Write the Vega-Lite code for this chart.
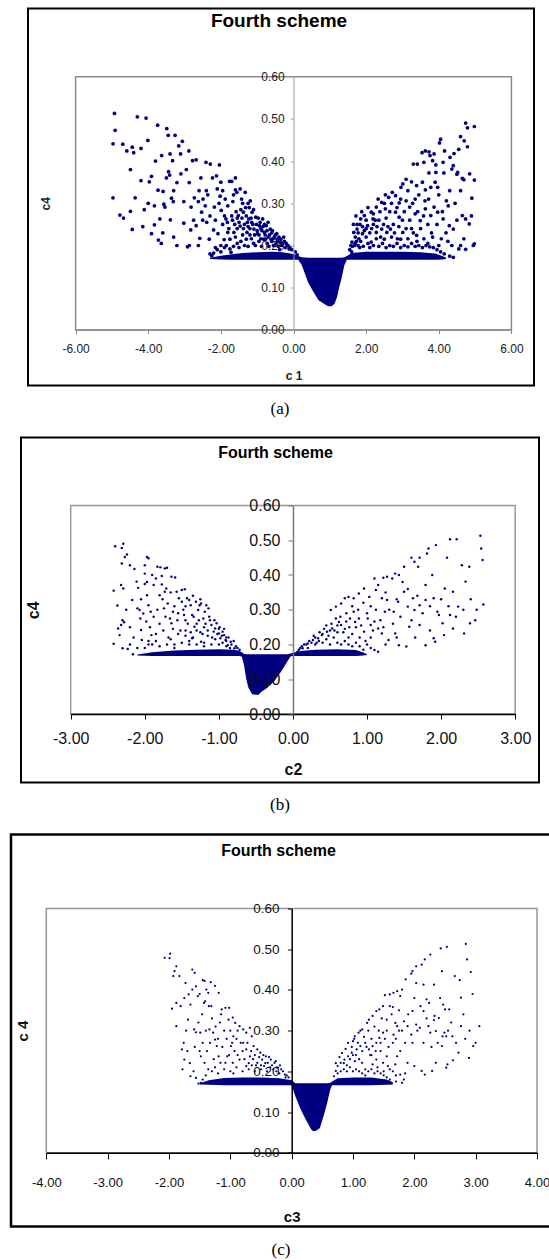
{
"$schema": "https://vega.github.io/schema/vega-lite/v6.json",
"background": "white",
"padding": {"left": 0, "top": 7.5, "right": 0, "bottom": 0},
"spacing": 19,
"config": {"view": {"stroke": "black", "strokeWidth": 2}, "axis": {"grid": false, "labelFlush": false, "labelOverlap": false, "labelBound": false}},
"datasets": {
"a": [{"x":-4.93,"y":0.513},{"x":-4.91,"y":0.473},{"x":-4.97,"y":0.441},{"x":-4.97,"y":0.313},{"x":-4.78,"y":0.272},{"x":-4.68,"y":0.265},{"x":-4.49,"y":0.38},{"x":-4.59,"y":0.424},{"x":-4.44,"y":0.433},{"x":-4.4,"y":0.42},{"x":-4.49,"y":0.281},{"x":-4.44,"y":0.238},{"x":-4.36,"y":0.313},{"x":-4.3,"y":0.505},{"x":-4.2,"y":0.354},{"x":-4.15,"y":0.245},{"x":-4.11,"y":0.285},{"x":-4.06,"y":0.502},{"x":-4.01,"y":0.449},{"x":-3.97,"y":0.351},{"x":-3.91,"y":0.364},{"x":-3.91,"y":0.228},{"x":-3.83,"y":0.249},{"x":-3.83,"y":0.294},{"x":-3.74,"y":0.485},{"x":-3.73,"y":0.331},{"x":-3.68,"y":0.263},{"x":-3.72,"y":0.213},{"x":-3.64,"y":0.205},{"x":-3.63,"y":0.413},{"x":-3.59,"y":0.328},{"x":-3.54,"y":0.291},{"x":-3.57,"y":0.298},{"x":-3.49,"y":0.477},{"x":-3.45,"y":0.461},{"x":-3.44,"y":0.375},{"x":-3.41,"y":0.367},{"x":-3.4,"y":0.417},{"x":-3.36,"y":0.312},{"x":-3.39,"y":0.261},{"x":-3.33,"y":0.401},{"x":-3.31,"y":0.304},{"x":-3.26,"y":0.461},{"x":-3.21,"y":0.349},{"x":-3.21,"y":0.2},{"x":-3.16,"y":0.436},{"x":-3.11,"y":0.417},{"x":-3.06,"y":0.447},{"x":-3.02,"y":0.304},{"x":-3.02,"y":0.253},{"x":-2.92,"y":0.197},{"x":-2.87,"y":0.2},{"x":-2.88,"y":0.424},{"x":-2.87,"y":0.349},{"x":-2.83,"y":0.237},{"x":-2.82,"y":0.291},{"x":-2.78,"y":0.401},{"x":-2.73,"y":0.313},{"x":-2.68,"y":0.403},{"x":-2.68,"y":0.247},{"x":-2.62,"y":0.304},{"x":-2.62,"y":0.2},{"x":-2.58,"y":0.217},{"x":-2.53,"y":0.279},{"x":-2.49,"y":0.31},{"x":-2.43,"y":0.294},{"x":-2.41,"y":0.397},{"x":-2.39,"y":0.255},{"x":-2.36,"y":0.32},{"x":-2.32,"y":0.215},{"x":-2.29,"y":0.393},{"x":-2.25,"y":0.176},{"x":-2.23,"y":0.36},{"x":-2.2,"y":0.237},{"x":-2.18,"y":0.291},{"x":-2.12,"y":0.365},{"x":-2.1,"y":0.334},{"x":-2.08,"y":0.228},{"x":-2.04,"y":0.391},{"x":-2.02,"y":0.317},{"x":-1.99,"y":0.283},{"x":-1.91,"y":0.214},{"x":-1.86,"y":0.263},{"x":-1.81,"y":0.231},{"x":-1.81,"y":0.294},{"x":-1.76,"y":0.352},{"x":-1.7,"y":0.352},{"x":-1.72,"y":0.184},{"x":-1.67,"y":0.304},{"x":-1.64,"y":0.231},{"x":-1.6,"y":0.332},{"x":-1.56,"y":0.326},{"x":-1.52,"y":0.271},{"x":-1.47,"y":0.334},{"x":-1.47,"y":0.246},{"x":-1.43,"y":0.31},{"x":-1.38,"y":0.279},{"x":-1.33,"y":0.326},{"x":-1.28,"y":0.231},{"x":-1.23,"y":0.263},{"x":-1.19,"y":0.306},{"x":-1.16,"y":0.216},{"x":-1.14,"y":0.279},{"x":-1.09,"y":0.239},{"x":-1.04,"y":0.267},{"x":-0.99,"y":0.228},{"x":-0.94,"y":0.247},{"x":-0.9,"y":0.216},{"x":-0.85,"y":0.263},{"x":-0.8,"y":0.231},{"x":-0.75,"y":0.247},{"x":-0.7,"y":0.22},{"x":-0.64,"y":0.239},{"x":-0.56,"y":0.216},{"x":-0.46,"y":0.228},{"x":-0.37,"y":0.208},{"x":-0.27,"y":0.22},{"x":-0.17,"y":0.2},
{"x":-2.2,"y":0.182},{"x":-2.1,"y":0.19},{"x":-2.0,"y":0.185},{"x":-1.9,"y":0.195},{"x":-1.85,"y":0.2},{"x":-1.75,"y":0.192},{"x":-1.65,"y":0.198},{"x":-1.55,"y":0.205},{"x":-1.5,"y":0.195},{"x":-1.45,"y":0.21},{"x":-1.35,"y":0.2},{"x":-1.3,"y":0.215},{"x":-1.25,"y":0.198},{"x":-1.2,"y":0.225},{"x":-1.1,"y":0.205},{"x":-1.05,"y":0.2},{"x":-0.95,"y":0.21},{"x":-0.88,"y":0.198},{"x":-0.82,"y":0.215},{"x":-0.72,"y":0.205},{"x":-0.68,"y":0.198},{"x":-0.6,"y":0.21},{"x":-0.52,"y":0.2},{"x":-0.48,"y":0.205},{"x":-0.42,"y":0.198},{"x":-0.33,"y":0.2},{"x":-0.22,"y":0.195},{"x":-0.12,"y":0.192},{"x":-0.05,"y":0.19},{"x":0.05,"y":0.185},{"x":0.1,"y":0.178},{"x":-1.55,"y":0.24},{"x":-1.35,"y":0.25},{"x":-1.25,"y":0.245},{"x":-1.15,"y":0.255},{"x":-1.0,"y":0.235},{"x":-0.9,"y":0.24},{"x":-0.78,"y":0.225},{"x":-0.6,"y":0.23},{"x":-1.4,"y":0.225},{"x":-1.6,"y":0.22},{"x":-1.75,"y":0.215},{"x":-2.0,"y":0.2},{"x":-2.15,"y":0.195},{"x":-0.55,"y":0.2},{"x":-0.45,"y":0.215},{"x":-0.38,"y":0.19},{"x":-2.3,"y":0.18},
{"x":-1.95,"y":0.25},{"x":-1.9,"y":0.27},{"x":-1.82,"y":0.255},{"x":-1.78,"y":0.24},{"x":-1.7,"y":0.27},{"x":-1.68,"y":0.26},{"x":-1.62,"y":0.25},{"x":-1.58,"y":0.28},{"x":-1.55,"y":0.265},{"x":-1.5,"y":0.255},{"x":-1.45,"y":0.285},{"x":-1.42,"y":0.265},{"x":-1.38,"y":0.24},{"x":-1.32,"y":0.29},{"x":-1.3,"y":0.27},{"x":-1.27,"y":0.255},{"x":-1.22,"y":0.29},{"x":-1.2,"y":0.24},{"x":-1.17,"y":0.265},{"x":-1.12,"y":0.25},{"x":-1.1,"y":0.285},{"x":-1.07,"y":0.225},{"x":-1.02,"y":0.25},{"x":-0.97,"y":0.265},{"x":-0.95,"y":0.225},{"x":-0.92,"y":0.255},{"x":-0.87,"y":0.235},{"x":-0.84,"y":0.245},{"x":-0.8,"y":0.25},{"x":-0.77,"y":0.215},{"x":-0.73,"y":0.235},{"x":-0.7,"y":0.255},{"x":-0.66,"y":0.225},{"x":-0.62,"y":0.215},{"x":-0.58,"y":0.235},{"x":-0.53,"y":0.22},{"x":-0.5,"y":0.225},{"x":-0.44,"y":0.21},{"x":-0.4,"y":0.22},{"x":-0.35,"y":0.215},{"x":-0.3,"y":0.205},{"x":-0.25,"y":0.21},{"x":-0.2,"y":0.205},{"x":-0.15,"y":0.2},{"x":-0.1,"y":0.195},{"x":-2.4,"y":0.33},{"x":-2.5,"y":0.26},{"x":-2.6,"y":0.33},{"x":-2.3,"y":0.27},{"x":-2.15,"y":0.26},{"x":-2.05,"y":0.3},{"x":-1.95,"y":0.33},{"x":-1.88,"y":0.31},{"x":-1.65,"y":0.32},{"x":-1.4,"y":0.3},{"x":-1.25,"y":0.3},{"x":-1.6,"y":0.36},{"x":-2.0,"y":0.35},{"x":-2.55,"y":0.36},{"x":-2.95,"y":0.38},{"x":-3.1,"y":0.37},{"x":-3.3,"y":0.33},{"x":-3.5,"y":0.36},{"x":-3.8,"y":0.4},{"x":-4.2,"y":0.43},{"x":-4.7,"y":0.44},{"x":-4.0,"y":0.3},{"x":-3.6,"y":0.23},{"x":-3.3,"y":0.22},{"x":-2.75,"y":0.26},
{"x":4.74,"y":0.49},{"x":4.79,"y":0.479},{"x":4.98,"y":0.482},{"x":4.6,"y":0.458},{"x":4.7,"y":0.448},{"x":4.79,"y":0.434},{"x":4.55,"y":0.428},{"x":4.42,"y":0.418},{"x":4.05,"y":0.452},{"x":4.02,"y":0.443},{"x":4.16,"y":0.424},{"x":4.31,"y":0.409},{"x":4.4,"y":0.389},{"x":3.54,"y":0.42},{"x":3.63,"y":0.424},{"x":3.73,"y":0.422},{"x":3.76,"y":0.413},{"x":3.87,"y":0.417},{"x":3.3,"y":0.393},{"x":3.41,"y":0.393},{"x":3.59,"y":0.397},{"x":3.83,"y":0.401},{"x":3.92,"y":0.391},{"x":4.12,"y":0.397},{"x":3.73,"y":0.372},{"x":3.92,"y":0.373},{"x":4.14,"y":0.372},{"x":4.36,"y":0.381},{"x":4.5,"y":0.369},{"x":4.52,"y":0.373},{"x":4.98,"y":0.355},{"x":4.65,"y":0.359},{"x":4.69,"y":0.356},{"x":3.1,"y":0.357},{"x":3.01,"y":0.346},{"x":2.96,"y":0.338},{"x":3.25,"y":0.351},{"x":3.39,"y":0.342},{"x":3.63,"y":0.332},{"x":3.78,"y":0.338},{"x":3.97,"y":0.338},{"x":2.53,"y":0.32},{"x":2.72,"y":0.326},{"x":2.81,"y":0.318},{"x":2.33,"y":0.31},{"x":2.43,"y":0.302},{"x":2.62,"y":0.314},{"x":2.28,"y":0.291},{"x":2.91,"y":0.301},{"x":3.1,"y":0.306},{"x":3.35,"y":0.31},{"x":3.62,"y":0.306},{"x":3.87,"y":0.291},{"x":4.21,"y":0.306},{"x":4.26,"y":0.294},{"x":4.91,"y":0.312},{"x":2.14,"y":0.279},{"x":2.19,"y":0.263},{"x":2.53,"y":0.287},{"x":2.81,"y":0.279},{"x":2.91,"y":0.267},{"x":3.2,"y":0.291},{"x":3.35,"y":0.275},{"x":3.49,"y":0.259},{"x":3.63,"y":0.287},{"x":3.78,"y":0.271},{"x":3.97,"y":0.279},{"x":4.12,"y":0.263},{"x":4.29,"y":0.247},{"x":4.4,"y":0.239},{"x":4.65,"y":0.271},{"x":4.74,"y":0.263},{"x":4.84,"y":0.251},{"x":1.85,"y":0.263},{"x":1.95,"y":0.271},{"x":2.04,"y":0.247},{"x":2.28,"y":0.231},{"x":2.43,"y":0.239},{"x":2.57,"y":0.231},{"x":2.67,"y":0.239},{"x":2.86,"y":0.216},{"x":3.01,"y":0.231},{"x":3.15,"y":0.216},{"x":3.39,"y":0.224},{"x":3.59,"y":0.216},{"x":3.83,"y":0.22},{"x":4.07,"y":0.216},{"x":4.36,"y":0.2},{"x":4.55,"y":0.192},{"x":4.69,"y":0.216},{"x":4.74,"y":0.191},{"x":4.98,"y":0.204},{"x":4.4,"y":0.172},{"x":1.66,"y":0.231},{"x":1.75,"y":0.239},{"x":1.8,"y":0.216},{"x":1.9,"y":0.228},{"x":2.0,"y":0.22},{"x":1.61,"y":0.208},{"x":2.14,"y":0.208},{"x":2.28,"y":0.216},
{"x":1.55,"y":0.19},{"x":1.62,"y":0.198},{"x":1.7,"y":0.205},{"x":1.78,"y":0.2},{"x":1.85,"y":0.21},{"x":1.92,"y":0.198},{"x":2.05,"y":0.205},{"x":2.1,"y":0.195},{"x":2.2,"y":0.2},{"x":2.35,"y":0.198},{"x":2.45,"y":0.205},{"x":2.55,"y":0.195},{"x":2.65,"y":0.2},{"x":2.75,"y":0.198},{"x":2.85,"y":0.205},{"x":2.95,"y":0.195},{"x":3.05,"y":0.2},{"x":3.15,"y":0.197},{"x":3.25,"y":0.205},{"x":3.35,"y":0.198},{"x":3.45,"y":0.2},{"x":3.55,"y":0.195},{"x":3.65,"y":0.2},{"x":3.75,"y":0.197},{"x":3.85,"y":0.195},{"x":3.95,"y":0.19},{"x":4.05,"y":0.185},{"x":4.15,"y":0.18},{"x":4.3,"y":0.175},{"x":2.0,"y":0.24},{"x":2.2,"y":0.25},{"x":1.9,"y":0.245},{"x":2.35,"y":0.26},{"x":2.5,"y":0.215},{"x":2.7,"y":0.22},{"x":3.25,"y":0.24},{"x":1.7,"y":0.22},{"x":1.75,"y":0.25},{"x":1.58,"y":0.2},
{"x":1.65,"y":0.25},{"x":1.72,"y":0.27},{"x":1.78,"y":0.23},{"x":1.83,"y":0.25},{"x":1.88,"y":0.28},{"x":1.95,"y":0.235},{"x":2.0,"y":0.26},{"x":2.05,"y":0.29},{"x":2.1,"y":0.23},{"x":2.15,"y":0.24},{"x":2.2,"y":0.275},{"x":2.25,"y":0.26},{"x":2.3,"y":0.245},{"x":2.38,"y":0.28},{"x":2.4,"y":0.22},{"x":2.48,"y":0.25},{"x":2.5,"y":0.3},{"x":2.55,"y":0.265},{"x":2.6,"y":0.245},{"x":2.65,"y":0.28},{"x":2.7,"y":0.3},{"x":2.75,"y":0.25},{"x":2.78,"y":0.23},{"x":2.85,"y":0.29},{"x":2.9,"y":0.245},{"x":2.95,"y":0.31},{"x":3.0,"y":0.26},{"x":3.05,"y":0.28},{"x":3.1,"y":0.24},{"x":3.15,"y":0.33},{"x":3.2,"y":0.26},{"x":3.28,"y":0.3},{"x":3.3,"y":0.23},{"x":3.42,"y":0.28},{"x":3.45,"y":0.32},{"x":3.5,"y":0.24},{"x":3.55,"y":0.35},{"x":3.58,"y":0.27},{"x":3.7,"y":0.25},{"x":3.72,"y":0.31},{"x":3.8,"y":0.23},{"x":3.9,"y":0.35},{"x":3.95,"y":0.25},{"x":4.0,"y":0.32},{"x":4.1,"y":0.28},{"x":4.2,"y":0.23},{"x":4.3,"y":0.33},{"x":4.45,"y":0.3},{"x":4.5,"y":0.26},{"x":4.6,"y":0.33},{"x":4.85,"y":0.37},{"x":4.9,"y":0.27},{"x":4.95,"y":0.2},{"x":4.6,"y":0.2},{"x":4.25,"y":0.21},{"x":4.0,"y":0.2},{"x":3.7,"y":0.205},{"x":3.4,"y":0.21},{"x":2.95,"y":0.215},{"x":1.68,"y":0.2},{"x":1.73,"y":0.21},{"x":1.82,"y":0.195},{"x":1.6,"y":0.185}],
"fa": [{"x":-2.3,"lo":0.168,"hi":0.171},{"x":-2.0,"lo":0.167,"hi":0.176},{"x":-1.7,"lo":0.166,"hi":0.179},{"x":-1.4,"lo":0.166,"hi":0.182},{"x":-1.0,"lo":0.166,"hi":0.184},{"x":-0.6,"lo":0.166,"hi":0.185},{"x":-0.3,"lo":0.166,"hi":0.184},{"x":0.0,"lo":0.166,"hi":0.18},{"x":0.13,"lo":0.166,"hi":0.175},{"x":0.23,"lo":0.153,"hi":0.172},{"x":0.4,"lo":0.113,"hi":0.171},{"x":0.55,"lo":0.09,"hi":0.171},{"x":0.69,"lo":0.07,"hi":0.171},{"x":0.84,"lo":0.062,"hi":0.171},{"x":0.95,"lo":0.056,"hi":0.171},{"x":1.05,"lo":0.056,"hi":0.171},{"x":1.13,"lo":0.062,"hi":0.171},{"x":1.2,"lo":0.078,"hi":0.171},{"x":1.25,"lo":0.098,"hi":0.171},{"x":1.32,"lo":0.121,"hi":0.171},{"x":1.4,"lo":0.153,"hi":0.172},{"x":1.47,"lo":0.166,"hi":0.175},{"x":1.6,"lo":0.166,"hi":0.182},{"x":2.0,"lo":0.166,"hi":0.185},{"x":2.5,"lo":0.166,"hi":0.185},{"x":3.0,"lo":0.166,"hi":0.185},{"x":3.5,"lo":0.166,"hi":0.184},{"x":3.9,"lo":0.166,"hi":0.181},{"x":4.1,"lo":0.167,"hi":0.175},{"x":4.2,"lo":0.168,"hi":0.171}],
"b": [{"x":-2.4,"y":0.483},{"x":-2.31,"y":0.478},{"x":-2.29,"y":0.49},{"x":-2.27,"y":0.452},{"x":-2.24,"y":0.459},{"x":-2.31,"y":0.433},{"x":-2.2,"y":0.428},{"x":-2.14,"y":0.417},{"x":-2.42,"y":0.355},{"x":-2.37,"y":0.312},{"x":-2.32,"y":0.371},{"x":-2.29,"y":0.361},{"x":-2.17,"y":0.328},{"x":-2.36,"y":0.246},{"x":-2.32,"y":0.256},{"x":-2.3,"y":0.27},{"x":-2.28,"y":0.264},{"x":-2.34,"y":0.227},{"x":-2.42,"y":0.202},{"x":-2.3,"y":0.189},{"x":-2.23,"y":0.187},{"x":-2.16,"y":0.172},{"x":-2.11,"y":0.381},{"x":-2.09,"y":0.363},{"x":-2.1,"y":0.304},{"x":-2.07,"y":0.299},{"x":-2.06,"y":0.275},{"x":-2.05,"y":0.242},{"x":-2.04,"y":0.213},{"x":-2.02,"y":0.289},{"x":-2.0,"y":0.428},{"x":-1.97,"y":0.452},{"x":-1.95,"y":0.448},{"x":-2.0,"y":0.404},{"x":-2.0,"y":0.374},{"x":-1.97,"y":0.342},{"x":-1.95,"y":0.313},{"x":-1.98,"y":0.266},{"x":-1.92,"y":0.294},{"x":-1.91,"y":0.227},{"x":-1.9,"y":0.4},{"x":-1.88,"y":0.371},{"x":-1.85,"y":0.39},{"x":-1.83,"y":0.424},{"x":-1.79,"y":0.422},{"x":-1.77,"y":0.397},{"x":-1.73,"y":0.419},{"x":-1.7,"y":0.421},{"x":-1.8,"y":0.342},{"x":-1.77,"y":0.373},{"x":-1.74,"y":0.304},{"x":-1.73,"y":0.352},{"x":-1.71,"y":0.361},{"x":-1.64,"y":0.395},{"x":-1.59,"y":0.393},{"x":-1.69,"y":0.318},{"x":-1.66,"y":0.275},{"x":-1.64,"y":0.261},{"x":-1.62,"y":0.294},{"x":-1.57,"y":0.352},{"x":-1.54,"y":0.333},{"x":-1.5,"y":0.357},{"x":-1.46,"y":0.359},{"x":-1.5,"y":0.323},{"x":-1.47,"y":0.285},{"x":-1.45,"y":0.27},{"x":-1.43,"y":0.333},{"x":-1.4,"y":0.328},{"x":-1.38,"y":0.313},{"x":-1.36,"y":0.285},{"x":-1.33,"y":0.251},{"x":-1.31,"y":0.323},{"x":-1.28,"y":0.299},{"x":-1.26,"y":0.313},{"x":-1.24,"y":0.318},{"x":-1.21,"y":0.275},{"x":-1.19,"y":0.294},{"x":-1.17,"y":0.313},{"x":-1.14,"y":0.304},{"x":-1.12,"y":0.27},{"x":-1.1,"y":0.256},{"x":-1.07,"y":0.237},{"x":-1.05,"y":0.246},{"x":-1.03,"y":0.261},{"x":-1.0,"y":0.232},{"x":-0.98,"y":0.218},{"x":-0.95,"y":0.237},{"x":-0.93,"y":0.227},{"x":-0.91,"y":0.213},{"x":-0.88,"y":0.198},{"x":-0.84,"y":0.208},{"x":-0.79,"y":0.189},{"x":-0.74,"y":0.179},
{"x":-2.0,"y":0.19},{"x":-1.9,"y":0.2},{"x":-1.85,"y":0.21},{"x":-1.8,"y":0.195},{"x":-1.7,"y":0.2},{"x":-1.65,"y":0.215},{"x":-1.6,"y":0.2},{"x":-1.55,"y":0.23},{"x":-1.5,"y":0.205},{"x":-1.45,"y":0.24},{"x":-1.4,"y":0.21},{"x":-1.35,"y":0.22},{"x":-1.3,"y":0.2},{"x":-1.25,"y":0.235},{"x":-1.2,"y":0.205},{"x":-1.15,"y":0.225},{"x":-1.1,"y":0.2},{"x":-1.05,"y":0.215},{"x":-1.0,"y":0.2},{"x":-0.95,"y":0.205},{"x":-0.9,"y":0.195},{"x":-0.85,"y":0.19},{"x":-1.36,"y":0.218},{"x":-1.24,"y":0.208},{"x":-1.45,"y":0.225},{"x":-1.62,"y":0.245},{"x":-1.85,"y":0.23},{"x":-1.95,"y":0.21},{"x":-1.75,"y":0.24},{"x":-1.2,"y":0.25},{"x":-1.15,"y":0.24},{"x":-1.3,"y":0.26},{"x":-1.0,"y":0.245},{"x":-0.9,"y":0.22},
{"x":-2.25,"y":0.3},{"x":-2.2,"y":0.25},{"x":-2.15,"y":0.22},{"x":-2.1,"y":0.19},{"x":-2.05,"y":0.33},{"x":-1.97,"y":0.38},{"x":-1.93,"y":0.25},{"x":-1.88,"y":0.28},{"x":-1.83,"y":0.3},{"x":-1.8,"y":0.26},{"x":-1.76,"y":0.33},{"x":-1.72,"y":0.28},{"x":-1.68,"y":0.22},{"x":-1.6,"y":0.31},{"x":-1.56,"y":0.27},{"x":-1.52,"y":0.24},{"x":-1.48,"y":0.3},{"x":-1.42,"y":0.26},{"x":-1.38,"y":0.235},{"x":-1.34,"y":0.28},{"x":-1.3,"y":0.24},{"x":-1.27,"y":0.27},{"x":-1.22,"y":0.23},{"x":-1.18,"y":0.26},{"x":-1.13,"y":0.28},{"x":-1.09,"y":0.22},{"x":-1.06,"y":0.27},{"x":-1.02,"y":0.23},{"x":-0.99,"y":0.25},{"x":-0.96,"y":0.225},{"x":-0.93,"y":0.245},{"x":-0.9,"y":0.21},{"x":-0.87,"y":0.22},{"x":-0.83,"y":0.2},{"x":-0.8,"y":0.21},{"x":-0.77,"y":0.195},{"x":-0.75,"y":0.19},{"x":-0.72,"y":0.185},{"x":-1.65,"y":0.35},{"x":-1.45,"y":0.31},{"x":-1.35,"y":0.34},{"x":-1.25,"y":0.33},{"x":-1.55,"y":0.29},{"x":-1.95,"y":0.2},{"x":-2.2,"y":0.2},{"x":-1.4,"y":0.2},{"x":-1.2,"y":0.195},{"x":-1.6,"y":0.19},
{"x":2.53,"y":0.513},{"x":2.54,"y":0.476},{"x":2.56,"y":0.443},{"x":2.57,"y":0.315},{"x":2.12,"y":0.503},{"x":2.21,"y":0.503},{"x":1.93,"y":0.486},{"x":1.83,"y":0.476},{"x":1.81,"y":0.462},{"x":1.71,"y":0.45},{"x":1.64,"y":0.438},{"x":1.6,"y":0.45},{"x":1.69,"y":0.424},{"x":1.5,"y":0.424},{"x":1.43,"y":0.4},{"x":1.38,"y":0.404},{"x":1.34,"y":0.39},{"x":1.27,"y":0.395},{"x":1.22,"y":0.392},{"x":1.1,"y":0.39},{"x":1.15,"y":0.371},{"x":1.12,"y":0.357},{"x":2.08,"y":0.45},{"x":2.28,"y":0.428},{"x":2.38,"y":0.424},{"x":2.33,"y":0.381},{"x":2.05,"y":0.361},{"x":2.16,"y":0.352},{"x":1.9,"y":0.333},{"x":1.79,"y":0.371},{"x":1.79,"y":0.328},{"x":1.71,"y":0.313},{"x":1.55,"y":0.309},{"x":1.5,"y":0.352},{"x":1.62,"y":0.333},{"x":1.42,"y":0.323},{"x":1.36,"y":0.294},{"x":1.24,"y":0.294},{"x":1.27,"y":0.328},{"x":1.2,"y":0.333},{"x":1.03,"y":0.337},{"x":0.96,"y":0.361},{"x":0.89,"y":0.347},{"x":0.82,"y":0.333},{"x":0.75,"y":0.337},{"x":0.7,"y":0.333},{"x":0.65,"y":0.318},{"x":0.58,"y":0.309},{"x":0.51,"y":0.299},{"x":1.95,"y":0.294},{"x":1.97,"y":0.285},{"x":2.02,"y":0.261},{"x":2.12,"y":0.285},{"x":2.23,"y":0.309},{"x":2.39,"y":0.261},{"x":2.46,"y":0.27},{"x":2.31,"y":0.232},{"x":2.16,"y":0.246},{"x":2.04,"y":0.227},{"x":1.9,"y":0.218},{"x":1.92,"y":0.208},{"x":1.79,"y":0.198},{"x":1.71,"y":0.256},{"x":1.64,"y":0.299},{"x":1.57,"y":0.251},{"x":1.53,"y":0.194},{"x":1.43,"y":0.198},{"x":1.38,"y":0.232},{"x":1.29,"y":0.213},{"x":1.2,"y":0.232},{"x":1.15,"y":0.246},{"x":1.1,"y":0.266},{"x":1.05,"y":0.256},{"x":1.01,"y":0.275},{"x":0.96,"y":0.237},{"x":1.15,"y":0.179},{"x":1.1,"y":0.184},{"x":0.89,"y":0.275},{"x":0.82,"y":0.294},{"x":0.77,"y":0.275},{"x":0.72,"y":0.266},{"x":0.65,"y":0.256},{"x":0.58,"y":0.275},{"x":0.53,"y":0.246},{"x":0.46,"y":0.237},{"x":0.39,"y":0.227},{"x":0.34,"y":0.218},{"x":0.27,"y":0.213},{"x":0.2,"y":0.203},{"x":0.13,"y":0.189},{"x":0.06,"y":0.179},
{"x":0.1,"y":0.19},{"x":0.15,"y":0.2},{"x":0.2,"y":0.19},{"x":0.25,"y":0.205},{"x":0.3,"y":0.2},{"x":0.35,"y":0.21},{"x":0.4,"y":0.205},{"x":0.45,"y":0.215},{"x":0.5,"y":0.2},{"x":0.55,"y":0.22},{"x":0.6,"y":0.205},{"x":0.65,"y":0.2},{"x":0.7,"y":0.21},{"x":0.75,"y":0.2},{"x":0.8,"y":0.195},{"x":0.85,"y":0.205},{"x":0.9,"y":0.195},{"x":0.95,"y":0.185},{"x":0.4,"y":0.23},{"x":0.5,"y":0.24},{"x":0.6,"y":0.235},{"x":0.7,"y":0.245},{"x":0.8,"y":0.23},{"x":0.3,"y":0.22},{"x":0.45,"y":0.255},{"x":0.62,"y":0.265},{"x":0.85,"y":0.25},{"x":1.0,"y":0.2},{"x":1.05,"y":0.22},
{"x":0.08,"y":0.185},{"x":0.12,"y":0.195},{"x":0.18,"y":0.2},{"x":0.22,"y":0.21},{"x":0.28,"y":0.225},{"x":0.32,"y":0.205},{"x":0.36,"y":0.235},{"x":0.42,"y":0.245},{"x":0.48,"y":0.225},{"x":0.52,"y":0.26},{"x":0.56,"y":0.24},{"x":0.6,"y":0.255},{"x":0.64,"y":0.28},{"x":0.68,"y":0.235},{"x":0.72,"y":0.29},{"x":0.76,"y":0.25},{"x":0.8,"y":0.31},{"x":0.84,"y":0.265},{"x":0.88,"y":0.3},{"x":0.92,"y":0.255},{"x":0.95,"y":0.32},{"x":1.0,"y":0.29},{"x":1.05,"y":0.31},{"x":1.08,"y":0.24},{"x":1.12,"y":0.3},{"x":1.18,"y":0.27},{"x":1.22,"y":0.25},{"x":1.25,"y":0.35},{"x":1.3,"y":0.3},{"x":1.35,"y":0.26},{"x":1.4,"y":0.33},{"x":1.45,"y":0.28},{"x":1.48,"y":0.38},{"x":1.55,"y":0.36},{"x":1.6,"y":0.27},{"x":1.68,"y":0.34},{"x":1.75,"y":0.29},{"x":1.85,"y":0.31},{"x":1.88,"y":0.4},{"x":2.0,"y":0.33},{"x":2.1,"y":0.31},{"x":2.2,"y":0.28},{"x":2.3,"y":0.3},{"x":2.4,"y":0.33},{"x":2.48,"y":0.3},{"x":1.85,"y":0.24},{"x":1.65,"y":0.22},{"x":1.4,"y":0.22},{"x":1.25,"y":0.2},{"x":1.05,"y":0.19},{"x":0.98,"y":0.21},{"x":0.9,"y":0.22},{"x":0.75,"y":0.22}],
"fb": [{"x":-2.1,"lo":0.168,"hi":0.171},{"x":-1.9,"lo":0.167,"hi":0.178},{"x":-1.6,"lo":0.167,"hi":0.183},{"x":-1.3,"lo":0.167,"hi":0.185},{"x":-1.0,"lo":0.167,"hi":0.186},{"x":-0.8,"lo":0.167,"hi":0.185},{"x":-0.72,"lo":0.167,"hi":0.181},{"x":-0.69,"lo":0.165,"hi":0.178},{"x":-0.66,"lo":0.14,"hi":0.173},{"x":-0.63,"lo":0.1,"hi":0.172},{"x":-0.6,"lo":0.075,"hi":0.172},{"x":-0.55,"lo":0.057,"hi":0.172},{"x":-0.47,"lo":0.055,"hi":0.172},{"x":-0.42,"lo":0.065,"hi":0.172},{"x":-0.35,"lo":0.075,"hi":0.172},{"x":-0.25,"lo":0.095,"hi":0.172},{"x":-0.15,"lo":0.125,"hi":0.172},{"x":-0.08,"lo":0.15,"hi":0.172},{"x":-0.03,"lo":0.166,"hi":0.174},{"x":0.0,"lo":0.167,"hi":0.176},{"x":0.1,"lo":0.167,"hi":0.181},{"x":0.3,"lo":0.167,"hi":0.185},{"x":0.6,"lo":0.167,"hi":0.186},{"x":0.85,"lo":0.167,"hi":0.184},{"x":0.95,"lo":0.168,"hi":0.177},{"x":1.0,"lo":0.17,"hi":0.172}],
"c": [{"x":-2.07,"y":0.479},{"x":-1.98,"y":0.489},{"x":-1.99,"y":0.478},{"x":-1.93,"y":0.434},{"x":-1.88,"y":0.458},{"x":-1.91,"y":0.446},{"x":-1.83,"y":0.434},{"x":-1.95,"y":0.354},{"x":-1.88,"y":0.368},{"x":-1.81,"y":0.36},{"x":-1.88,"y":0.311},{"x":-1.73,"y":0.417},{"x":-1.68,"y":0.389},{"x":-1.62,"y":0.401},{"x":-1.65,"y":0.364},{"x":-1.69,"y":0.327},{"x":-1.62,"y":0.45},{"x":-1.58,"y":0.442},{"x":-1.56,"y":0.409},{"x":-1.53,"y":0.385},{"x":-1.45,"y":0.424},{"x":-1.42,"y":0.422},{"x":-1.39,"y":0.401},{"x":-1.36,"y":0.393},{"x":-1.32,"y":0.419},{"x":-1.19,"y":0.393},{"x":-1.43,"y":0.368},{"x":-1.41,"y":0.372},{"x":-1.31,"y":0.36},{"x":-1.76,"y":0.27},{"x":-1.79,"y":0.254},{"x":-1.75,"y":0.229},{"x":-1.78,"y":0.205},{"x":-1.65,"y":0.188},{"x":-1.56,"y":0.184},{"x":-1.48,"y":0.172},{"x":-1.59,"y":0.303},{"x":-1.56,"y":0.296},{"x":-1.49,"y":0.295},{"x":-1.45,"y":0.27},{"x":-1.48,"y":0.237},{"x":-1.42,"y":0.221},{"x":-1.36,"y":0.205},{"x":-1.34,"y":0.303},{"x":-1.28,"y":0.295},{"x":-1.25,"y":0.278},{"x":-1.22,"y":0.262},{"x":-1.19,"y":0.237},{"x":-1.16,"y":0.221},{"x":-1.14,"y":0.352},{"x":-1.08,"y":0.356},{"x":-1.02,"y":0.356},{"x":-1.03,"y":0.327},{"x":-0.96,"y":0.332},{"x":-0.92,"y":0.319},{"x":-0.95,"y":0.286},{"x":-0.99,"y":0.262},{"x":-1.05,"y":0.237},{"x":-1.08,"y":0.221},{"x":-0.85,"y":0.311},{"x":-0.79,"y":0.303},{"x":-0.74,"y":0.295},{"x":-0.68,"y":0.307},{"x":-0.65,"y":0.286},{"x":-0.79,"y":0.27},{"x":-0.74,"y":0.254},{"x":-0.68,"y":0.237},{"x":-0.62,"y":0.262},{"x":-0.56,"y":0.254},{"x":-0.51,"y":0.246},{"x":-0.48,"y":0.229},{"x":-0.42,"y":0.237},{"x":-0.39,"y":0.221},{"x":-0.34,"y":0.229},{"x":-0.28,"y":0.221},{"x":-0.22,"y":0.209},{"x":-0.17,"y":0.205},{"x":-0.11,"y":0.192},{"x":-0.85,"y":0.229},{"x":-0.96,"y":0.221},{"x":-0.74,"y":0.213},{"x":-0.56,"y":0.221},{"x":-0.45,"y":0.213},
{"x":-1.4,"y":0.19},{"x":-1.3,"y":0.2},{"x":-1.2,"y":0.195},{"x":-1.1,"y":0.205},{"x":-1.0,"y":0.2},{"x":-0.9,"y":0.21},{"x":-0.8,"y":0.2},{"x":-0.7,"y":0.205},{"x":-0.6,"y":0.2},{"x":-0.5,"y":0.205},{"x":-0.4,"y":0.2},{"x":-0.3,"y":0.205},{"x":-0.2,"y":0.195},{"x":-0.1,"y":0.185},{"x":-1.25,"y":0.21},{"x":-0.95,"y":0.195},{"x":-0.65,"y":0.215},{"x":-0.35,"y":0.21},{"x":-0.25,"y":0.2},{"x":-1.52,"y":0.17},{"x":-1.45,"y":0.18},
{"x":-1.72,"y":0.3},{"x":-1.7,"y":0.25},{"x":-1.66,"y":0.22},{"x":-1.6,"y":0.2},{"x":-1.58,"y":0.26},{"x":-1.52,"y":0.32},{"x":-1.5,"y":0.25},{"x":-1.46,"y":0.34},{"x":-1.4,"y":0.3},{"x":-1.38,"y":0.25},{"x":-1.33,"y":0.27},{"x":-1.3,"y":0.33},{"x":-1.27,"y":0.23},{"x":-1.24,"y":0.31},{"x":-1.2,"y":0.28},{"x":-1.17,"y":0.32},{"x":-1.13,"y":0.26},{"x":-1.1,"y":0.3},{"x":-1.06,"y":0.28},{"x":-1.02,"y":0.24},{"x":-1.0,"y":0.3},{"x":-0.97,"y":0.27},{"x":-0.93,"y":0.25},{"x":-0.9,"y":0.28},{"x":-0.88,"y":0.24},{"x":-0.83,"y":0.27},{"x":-0.8,"y":0.25},{"x":-0.77,"y":0.23},{"x":-0.72,"y":0.27},{"x":-0.7,"y":0.22},{"x":-0.66,"y":0.25},{"x":-0.63,"y":0.23},{"x":-0.6,"y":0.24},{"x":-0.58,"y":0.215},{"x":-0.53,"y":0.235},{"x":-0.5,"y":0.215},{"x":-0.46,"y":0.24},{"x":-0.43,"y":0.22},{"x":-0.37,"y":0.235},{"x":-0.32,"y":0.215},{"x":-0.26,"y":0.225},{"x":-0.24,"y":0.21},{"x":-0.19,"y":0.215},{"x":-0.14,"y":0.2},{"x":-0.08,"y":0.19},{"x":-0.05,"y":0.185},{"x":-1.15,"y":0.34},{"x":-0.88,"y":0.3},{"x":-1.35,"y":0.36},{"x":-1.5,"y":0.39},{"x":-1.25,"y":0.41},{"x":-1.75,"y":0.38},
{"x":2.84,"y":0.513},{"x":2.86,"y":0.475},{"x":2.92,"y":0.444},{"x":3.06,"y":0.311},{"x":3.0,"y":0.27},{"x":2.96,"y":0.262},{"x":2.89,"y":0.233},{"x":2.83,"y":0.28},{"x":2.76,"y":0.381},{"x":2.76,"y":0.311},{"x":2.72,"y":0.246},{"x":2.66,"y":0.434},{"x":2.74,"y":0.424},{"x":2.63,"y":0.227},{"x":2.62,"y":0.286},{"x":2.53,"y":0.506},{"x":2.43,"y":0.502},{"x":2.45,"y":0.446},{"x":2.47,"y":0.364},{"x":2.5,"y":0.352},{"x":2.57,"y":0.352},{"x":2.49,"y":0.295},{"x":2.52,"y":0.286},{"x":2.45,"y":0.262},{"x":2.52,"y":0.209},{"x":2.54,"y":0.217},{"x":2.4,"y":0.331},{"x":2.33,"y":0.336},{"x":2.32,"y":0.326},{"x":2.26,"y":0.487},{"x":2.17,"y":0.475},{"x":2.12,"y":0.462},{"x":2.03,"y":0.458},{"x":1.97,"y":0.446},{"x":1.95,"y":0.44},{"x":2.15,"y":0.413},{"x":2.32,"y":0.413},{"x":2.03,"y":0.417},{"x":1.86,"y":0.426},{"x":1.8,"y":0.401},{"x":1.72,"y":0.397},{"x":1.66,"y":0.393},{"x":1.6,"y":0.389},{"x":1.52,"y":0.387},{"x":1.77,"y":0.385},{"x":2.2,"y":0.377},{"x":2.24,"y":0.368},{"x":1.97,"y":0.348},{"x":2.15,"y":0.348},{"x":1.6,"y":0.36},{"x":1.65,"y":0.358},{"x":1.49,"y":0.36},{"x":1.43,"y":0.352},{"x":1.38,"y":0.348},{"x":1.32,"y":0.336},{"x":1.26,"y":0.327},{"x":1.23,"y":0.319},{"x":1.15,"y":0.303},{"x":1.09,"y":0.295},{"x":1.03,"y":0.286},{"x":1.0,"y":0.274},{"x":1.55,"y":0.327},{"x":1.69,"y":0.319},{"x":1.72,"y":0.311},{"x":1.83,"y":0.323},{"x":1.89,"y":0.311},{"x":2.03,"y":0.315},{"x":2.09,"y":0.307},{"x":2.23,"y":0.311},{"x":2.26,"y":0.295},{"x":2.35,"y":0.299},{"x":2.46,"y":0.286},{"x":1.49,"y":0.295},{"x":1.43,"y":0.282},{"x":1.38,"y":0.27},{"x":1.32,"y":0.262},{"x":1.26,"y":0.254},{"x":1.2,"y":0.27},{"x":1.12,"y":0.262},{"x":1.06,"y":0.254},{"x":0.98,"y":0.246},{"x":0.92,"y":0.237},{"x":0.86,"y":0.229},{"x":0.8,"y":0.221},{"x":0.75,"y":0.213},{"x":0.72,"y":0.201},{"x":0.69,"y":0.188},{"x":1.77,"y":0.25},{"x":1.72,"y":0.237},{"x":1.69,"y":0.217},{"x":1.77,"y":0.192},{"x":1.83,"y":0.18},{"x":1.89,"y":0.221},{"x":1.97,"y":0.27},{"x":2.0,"y":0.213},{"x":2.12,"y":0.201},{"x":2.17,"y":0.192},{"x":2.29,"y":0.201},{"x":2.35,"y":0.221},{"x":1.55,"y":0.237},{"x":1.57,"y":0.213},{"x":1.6,"y":0.205},{"x":1.49,"y":0.221},{"x":1.38,"y":0.229},{"x":1.32,"y":0.217},{"x":1.15,"y":0.221},{"x":1.03,"y":0.225},{"x":1.2,"y":0.205},
{"x":0.75,"y":0.195},{"x":0.8,"y":0.2},{"x":0.85,"y":0.205},{"x":0.9,"y":0.2},{"x":0.95,"y":0.21},{"x":1.0,"y":0.2},{"x":1.05,"y":0.205},{"x":1.1,"y":0.2},{"x":1.15,"y":0.195},{"x":1.25,"y":0.2},{"x":1.3,"y":0.205},{"x":1.35,"y":0.195},{"x":1.4,"y":0.2},{"x":1.45,"y":0.195},{"x":1.5,"y":0.19},{"x":1.55,"y":0.185},{"x":1.6,"y":0.18},{"x":1.7,"y":0.175},{"x":1.8,"y":0.172},{"x":0.9,"y":0.215},{"x":1.1,"y":0.23},{"x":1.0,"y":0.24},{"x":1.3,"y":0.24},{"x":1.45,"y":0.25},{"x":1.65,"y":0.27},{"x":1.75,"y":0.3},
{"x":0.72,"y":0.22},{"x":0.78,"y":0.235},{"x":0.82,"y":0.245},{"x":0.85,"y":0.22},{"x":0.88,"y":0.255},{"x":0.92,"y":0.27},{"x":0.95,"y":0.23},{"x":0.98,"y":0.26},{"x":1.02,"y":0.28},{"x":1.05,"y":0.24},{"x":1.08,"y":0.27},{"x":1.12,"y":0.3},{"x":1.15,"y":0.25},{"x":1.18,"y":0.285},{"x":1.22,"y":0.26},{"x":1.25,"y":0.3},{"x":1.28,"y":0.24},{"x":1.3,"y":0.28},{"x":1.35,"y":0.31},{"x":1.37,"y":0.25},{"x":1.42,"y":0.3},{"x":1.45,"y":0.27},{"x":1.47,"y":0.33},{"x":1.52,"y":0.28},{"x":1.55,"y":0.3},{"x":1.58,"y":0.26},{"x":1.63,"y":0.34},{"x":1.66,"y":0.29},{"x":1.7,"y":0.28},{"x":1.75,"y":0.35},{"x":1.8,"y":0.3},{"x":1.85,"y":0.27},{"x":1.9,"y":0.34},{"x":1.95,"y":0.29},{"x":2.0,"y":0.38},{"x":2.05,"y":0.3},{"x":2.1,"y":0.36},{"x":2.15,"y":0.27},{"x":2.2,"y":0.33},{"x":2.28,"y":0.26},{"x":2.38,"y":0.27},{"x":2.42,"y":0.38},{"x":2.55,"y":0.3},{"x":2.6,"y":0.32},{"x":2.68,"y":0.27},{"x":2.8,"y":0.34},{"x":2.9,"y":0.3},{"x":2.95,"y":0.39},{"x":1.2,"y":0.19},{"x":1.4,"y":0.21},{"x":1.5,"y":0.2},{"x":1.65,"y":0.2},{"x":1.7,"y":0.19},{"x":1.85,"y":0.195}],
"fc": [{"x":-1.5,"lo":0.168,"hi":0.171},{"x":-1.35,"lo":0.167,"hi":0.178},{"x":-1.1,"lo":0.166,"hi":0.184},{"x":-0.8,"lo":0.166,"hi":0.185},{"x":-0.5,"lo":0.166,"hi":0.185},{"x":-0.2,"lo":0.166,"hi":0.183},{"x":0.0,"lo":0.166,"hi":0.178},{"x":0.06,"lo":0.139,"hi":0.171},{"x":0.15,"lo":0.106,"hi":0.171},{"x":0.23,"lo":0.082,"hi":0.171},{"x":0.32,"lo":0.057,"hi":0.171},{"x":0.35,"lo":0.053,"hi":0.171},{"x":0.4,"lo":0.054,"hi":0.171},{"x":0.46,"lo":0.061,"hi":0.171},{"x":0.52,"lo":0.09,"hi":0.171},{"x":0.58,"lo":0.123,"hi":0.171},{"x":0.63,"lo":0.156,"hi":0.172},{"x":0.66,"lo":0.166,"hi":0.175},{"x":0.75,"lo":0.166,"hi":0.183},{"x":1.0,"lo":0.166,"hi":0.185},{"x":1.3,"lo":0.166,"hi":0.185},{"x":1.55,"lo":0.167,"hi":0.18},{"x":1.65,"lo":0.168,"hi":0.173}]
},
"vconcat": [
{"spacing": 0,
 "title": {"text": "(a)", "orient": "bottom", "anchor": "middle", "frame": "bounds", "offset": 14.5, "dx": 12.5, "font": "Liberation Serif", "fontSize": 17, "fontWeight": "normal", "color": "black"},
 "hconcat": [
  {"width": 27, "height": 1, "data": {"values": []}, "mark": "point", "view": {"stroke": null}},
  {"width": 506, "height": 377,
   "title": {"text": "Fourth scheme", "anchor": "middle", "frame": "group", "offset": -22.5, "dx": -2, "font": "Liberation Sans", "fontSize": 19, "fontWeight": "bold", "color": "black"},
   "layer": [
    {"data": {"values": [{}]}, "mark": {"type": "rect", "filled": false, "stroke": "#8c8c8c", "strokeWidth": 1.5},
     "encoding": {"x": {"datum": -6, "type": "quantitative"}, "x2": {"datum": 6}, "y": {"datum": 0, "type": "quantitative"}, "y2": {"datum": 0.6}}},
    {"data": {"name": "fa"}, "mark": {"type": "area", "color": "#000080", "opacity": 1},
     "encoding": {"x": {"field": "x", "type": "quantitative"}, "y": {"field": "lo", "type": "quantitative"}, "y2": {"field": "hi"}}},
    {"data": {"name": "a"}, "mark": {"type": "circle", "size": 14, "color": "#000080", "opacity": 1},
     "encoding": {
      "x": {"field": "x", "type": "quantitative", "scale": {"domain": [-6, 6], "range": [47.6, 483.4], "nice": false, "zero": false},
       "axis": {"orient": "bottom", "offset": -56, "zindex": 1, "values": [-6, -4, -2, 0, 2, 4, 6], "format": ".2f", "labelExpr": "replace(datum.label, '\u2212', '-')", "domainColor": "#8c8c8c", "domainWidth": 1.5, "tickColor": "#8c8c8c", "tickSize": 4, "labelFont": "Liberation Sans", "labelFontSize": 12, "labelColor": "#222", "labelBaseline": "middle", "labelPadding": 15.3, "title": "c 1", "titleFont": "Liberation Sans", "titleFontSize": 12, "titleFontWeight": "bold", "titleColor": "#222", "titleY": 46, "titleBaseline": "middle"}},
      "y": {"field": "y", "type": "quantitative", "scale": {"domain": [0, 0.6], "range": [321.4, 68.2], "nice": false, "zero": false},
       "axis": {"orient": "left", "offset": -265.5, "zindex": 1, "values": [0, 0.1, 0.2, 0.3, 0.4, 0.5, 0.6], "format": ".2f", "domainColor": "#9a9a9a", "domainWidth": 1, "tickColor": "#9a9a9a", "tickSize": 3, "labelFont": "Liberation Sans", "labelFontSize": 12, "labelColor": "#222", "labelPadding": 6.3, "title": "c4", "titleFont": "Liberation Sans", "titleFontSize": 12, "titleFontWeight": "bold", "titleColor": "#222", "titleX": -247.8, "titleBaseline": "middle"}}
     }}
   ]}
 ]},
{"spacing": 0,
 "title": {"text": "(b)", "orient": "bottom", "anchor": "middle", "frame": "bounds", "offset": 13.5, "dx": 10, "font": "Liberation Serif", "fontSize": 17, "fontWeight": "normal", "color": "black"},
 "hconcat": [
  {"width": 20, "height": 1, "data": {"values": []}, "mark": "point", "view": {"stroke": null}},
  {"width": 518, "height": 345,
   "title": {"text": "Fourth scheme", "anchor": "middle", "frame": "group", "offset": -23, "dx": -4.5, "font": "Liberation Sans", "fontSize": 16, "fontWeight": "bold", "color": "black"},
   "layer": [
    {"data": {"values": [{}]}, "mark": {"type": "rect", "filled": false, "stroke": "#999999", "strokeWidth": 1.5},
     "encoding": {"x": {"datum": -3, "type": "quantitative"}, "x2": {"datum": 3}, "y": {"datum": 0, "type": "quantitative"}, "y2": {"datum": 0.6}}},
    {"data": {"name": "fb"}, "mark": {"type": "area", "color": "#000080", "opacity": 1},
     "encoding": {"x": {"field": "x", "type": "quantitative"}, "y": {"field": "lo", "type": "quantitative"}, "y2": {"field": "hi"}}},
    {"data": {"name": "b"}, "mark": {"type": "circle", "size": 6, "color": "#000080", "opacity": 1},
     "encoding": {
      "x": {"field": "x", "type": "quantitative", "scale": {"domain": [-3, 3], "range": [49.7, 494.2], "nice": false, "zero": false},
       "axis": {"orient": "bottom", "offset": -68.5, "zindex": 1, "values": [-3, -2, -1, 0, 1, 2, 3], "format": ".2f", "labelExpr": "replace(datum.label, '\u2212', '-')", "domainColor": "#000", "domainWidth": 1.5, "tickColor": "#000", "tickSize": 5, "labelFont": "Liberation Sans", "labelFontSize": 16, "labelColor": "#111", "labelBaseline": "middle", "labelPadding": 19.3, "title": "c2", "titleFont": "Liberation Sans", "titleFontSize": 16, "titleFontWeight": "bold", "titleColor": "#111", "titleY": 55, "titleBaseline": "middle"}},
      "y": {"field": "y", "type": "quantitative", "scale": {"domain": [0, 0.6], "range": [276.5, 68], "nice": false, "zero": false},
       "axis": {"orient": "left", "offset": -272, "zindex": 1, "values": [0, 0.1, 0.2, 0.3, 0.4, 0.5, 0.6], "format": ".2f", "domainColor": "#7a7a7a", "domainWidth": 1.5, "tickColor": "#7a7a7a", "tickSize": 5, "labelFont": "Liberation Sans", "labelFontSize": 16, "labelColor": "#111", "labelPadding": 8, "title": "c4", "titleFont": "Liberation Sans", "titleFontSize": 16, "titleFontWeight": "bold", "titleColor": "#111", "titleX": -259.3, "titleBaseline": "middle"}}
     }}
   ]}
 ]},
{"spacing": 0,
 "title": {"text": "(c)", "orient": "bottom", "anchor": "middle", "frame": "bounds", "offset": 14, "dx": 2.3, "font": "Liberation Serif", "fontSize": 17, "fontWeight": "normal", "color": "black"},
 "hconcat": [
  {"width": 8.5, "height": 1, "data": {"values": []}, "mark": "point", "view": {"stroke": null}},
  {"width": 545, "height": 392, "view": {"stroke": "black", "strokeWidth": 2.5},
   "title": {"text": "Fourth scheme", "anchor": "middle", "frame": "group", "offset": -24, "dx": -5, "font": "Liberation Sans", "fontSize": 16, "fontWeight": "bold", "color": "black"},
   "layer": [
    {"data": {"values": [{}]}, "mark": {"type": "rect", "filled": false, "stroke": "#999999", "strokeWidth": 1.5},
     "encoding": {"x": {"datum": -4, "type": "quantitative"}, "x2": {"datum": 4}, "y": {"datum": 0, "type": "quantitative"}, "y2": {"datum": 0.6}}},
    {"data": {"name": "fc"}, "mark": {"type": "area", "color": "#000080", "opacity": 1},
     "encoding": {"x": {"field": "x", "type": "quantitative"}, "y": {"field": "lo", "type": "quantitative"}, "y2": {"field": "hi"}}},
    {"data": {"name": "c"}, "mark": {"type": "circle", "size": 5, "color": "#000080", "opacity": 1},
     "encoding": {
      "x": {"field": "x", "type": "quantitative", "scale": {"domain": [-4, 4], "range": [35.3, 526], "nice": false, "zero": false},
       "axis": {"orient": "bottom", "offset": -73.7, "zindex": 1, "values": [-4, -3, -2, -1, 0, 1, 2, 3, 4], "format": ".2f", "labelExpr": "replace(datum.label, '\u2212', '-')", "domainColor": "#000", "domainWidth": 1.5, "tickColor": "#000", "tickSize": 6, "labelFont": "Liberation Sans", "labelFontSize": 13, "labelColor": "#111", "labelBaseline": "middle", "labelPadding": 23.4, "title": "c3", "titleFont": "Liberation Sans", "titleFontSize": 15, "titleFontWeight": "bold", "titleColor": "#111", "titleY": 63.4, "titleBaseline": "middle"}},
      "y": {"field": "y", "type": "quantitative", "scale": {"domain": [0, 0.6], "range": [318.3, 74], "nice": false, "zero": false},
       "axis": {"orient": "left", "offset": -280.7, "zindex": 1, "values": [0, 0.1, 0.2, 0.3, 0.4, 0.5, 0.6], "format": ".2f", "domainColor": "#000", "domainWidth": 1.5, "tickColor": "#000", "tickSize": 4.3, "labelFont": "Liberation Sans", "labelFontSize": 13.5, "labelColor": "#111", "labelPadding": 8.4, "title": "c 4", "titleFont": "Liberation Sans", "titleFontSize": 15, "titleFontWeight": "bold", "titleColor": "#111", "titleX": -269.2, "titleBaseline": "middle"}}
     }}
   ]}
 ]}
]
}
